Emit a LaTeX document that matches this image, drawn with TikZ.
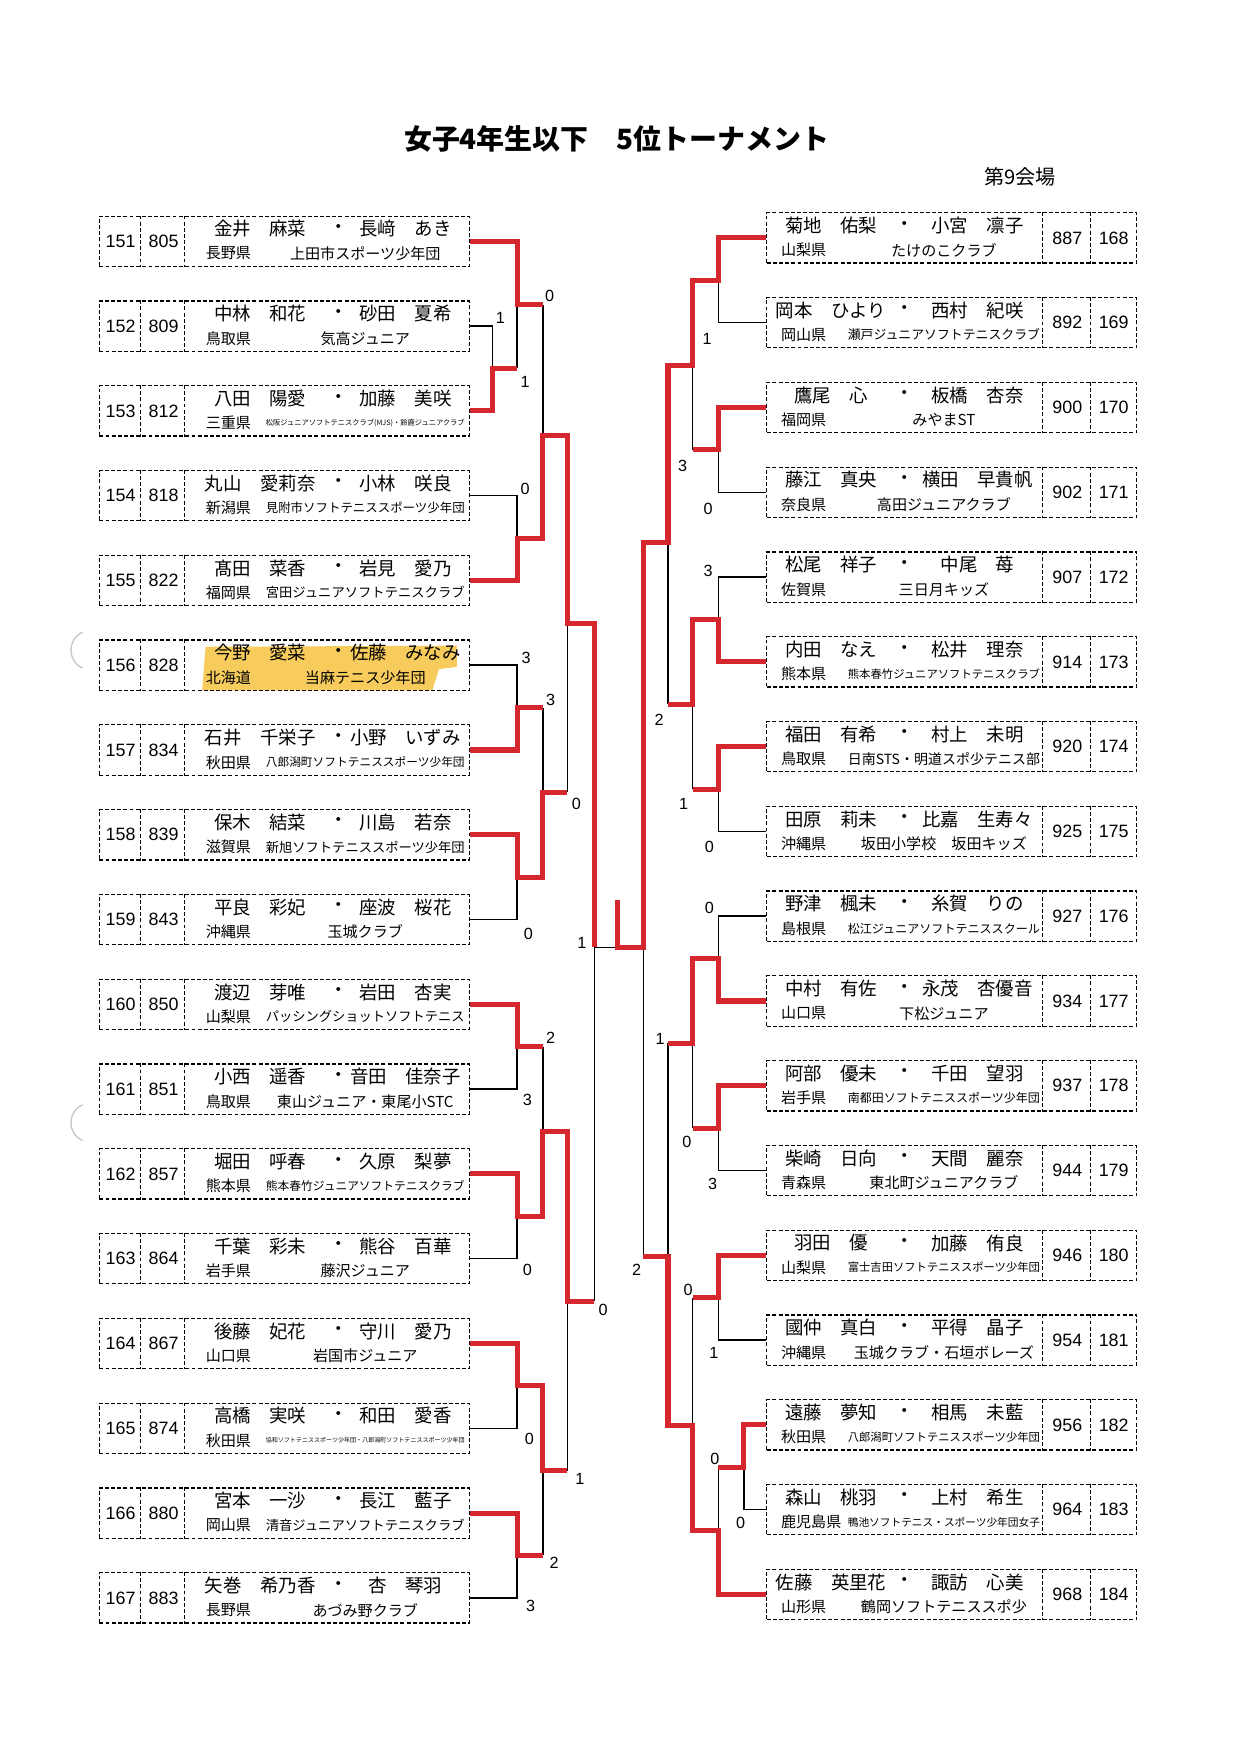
\documentclass[tikz,border=0pt]{standalone}
\usepackage{fontspec}
\usepackage{graphicx}
\setmainfont{Noto Sans CJK JP}
\newfontfamily\numfont{Liberation Sans}
\usetikzlibrary{calc}
\usetikzlibrary{positioning}

\definecolor{winred}{RGB}{214,38,46}
\definecolor{marker}{RGB}{248,204,92}

\newsavebox{\clubbox}
\newcommand{\fitclub}[2]{\sbox{\clubbox}{#2}\ifdim\wd\clubbox>#1\resizebox{#1}{!}{\usebox{\clubbox}}\else\usebox{\clubbox}\fi}

% seed, number, y, player 1, player 2, prefecture, club
\newcommand{\leftentry}[7]{%
  \node[entrybox] (e#1) at (254.5,#3) {};
  \draw[celldiv] ([xshift=37pt]e#1.north west) -- ([xshift=37pt]e#1.south west);
  \draw[celldiv] ([xshift=77pt]e#1.north west) -- ([xshift=77pt]e#1.south west);
  \node[seednum] (n#1) at (108,#3) {#1};
  \node[seednum] (k#1) at (146.5,#3) {#2};
  \node[player] (a#1) at (233,{#3-11}) {#4};
  \node[player] (d#1) at (303,{#3-11}) {・};
  \node[player] (b#1) at (363,{#3-11}) {#5};
  \node[club, anchor=west] (f#1) at (184,{#3+11}) {#6};
  \node[club] (c#1) at (327,{#3+11}) {\fitclub{178pt}{#7}};
}
\newcommand{\rightentry}[7]{%
  \node[entrybox] (e#1) at (852,#3) {};
  \draw[celldiv] ([xshift=247pt]e#1.north west) -- ([xshift=247pt]e#1.south west);
  \draw[celldiv] ([xshift=290pt]e#1.north west) -- ([xshift=290pt]e#1.south west);
  \node[seednum] (k#1) at (955.5,#3) {#2};
  \node[seednum] (n#1) at (997,#3) {#1};
  \node[player] (a#1) at (744,{#3-11}) {#4};
  \node[player] (d#1) at (810,{#3-11}) {・};
  \node[player] (b#1) at (875,{#3-11}) {#5};
  \node[club, anchor=west] (f#1) at (699,{#3+11}) {#6};
  \node[club] (c#1) at (845,{#3+11}) {\fitclub{172pt}{#7}};
}

\begin{document}
\begin{tikzpicture}[x=1pt,y=-1pt,
    entrybox/.style={draw, line width=1.1pt, dash pattern=on 3.5pt off 2pt, minimum width=331pt, minimum height=45pt, inner sep=0pt},
    celldiv/.style={line width=1.1pt, dash pattern=on 3.5pt off 2pt},
    seednum/.style={font=\numfont\fontsize{16}{16}\selectfont, inner sep=0pt},
    player/.style={font=\fontsize{16.5}{16.5}\selectfont, inner sep=0pt},
    club/.style={font=\fontsize{13.5}{13.5}\selectfont, inner sep=0pt},
    score/.style={font=\numfont\fontsize{14.5}{14.5}\selectfont, inner sep=0pt},
    win/.style={winred, line width=4.5pt},
    lose/.style={black, line width=1.3pt}]
  \useasboundingbox[fill=white] (0,0) rectangle (1110,1570.2);

  \node[font=\bfseries\fontsize{25}{25}\selectfont] (title) at (552,124) {女子4年生以下　5位トーナメント};
  \node[font=\fontsize{18}{18}\selectfont] (venue) at (913,158) {第9会場};

  % punch holes
  \draw[gray!45, line width=1.2pt] (74,566) .. controls (60,572) and (60,592) .. (74,598);
  \draw[gray!45, line width=1.2pt] (74,989) .. controls (60,995) and (60,1015) .. (74,1021);

  % marker on 156
  \fill[marker] (184,579) -- (409,578) -- (409,597) -- (393,599) -- (387,618) -- (181,618) -- cycle;

  \leftentry{151}{805}{216.0}{金井　麻菜}{長﨑　あき}{長野県}{上田市スポーツ少年団}
  \leftentry{152}{809}{291.9}{中林　和花}{砂田　夏希}{鳥取県}{気高ジュニア}
  \leftentry{153}{812}{367.8}{八田　陽愛}{加藤　美咲}{三重県}{松阪ジュニアソフトテニスクラブ(MJS)・鈴鹿ジュニアクラブ}
  \leftentry{154}{818}{443.7}{丸山　愛莉奈}{小林　咲良}{新潟県}{見附市ソフトテニススポーツ少年団}
  \leftentry{155}{822}{519.6}{髙田　菜香}{岩見　愛乃}{福岡県}{宮田ジュニアソフトテニスクラブ}
  \leftentry{156}{828}{595.5}{今野　愛菜}{佐藤　みなみ}{北海道}{当麻テニス少年団}
  \leftentry{157}{834}{671.4}{石井　千栄子}{小野　いずみ}{秋田県}{八郎潟町ソフトテニススポーツ少年団}
  \leftentry{158}{839}{747.3}{保木　結菜}{川島　若奈}{滋賀県}{新旭ソフトテニススポーツ少年団}
  \leftentry{159}{843}{823.2}{平良　彩妃}{座波　桜花}{沖縄県}{玉城クラブ}
  \leftentry{160}{850}{899.1}{渡辺　芽唯}{岩田　杏実}{山梨県}{パッシングショットソフトテニス}
  \leftentry{161}{851}{975.0}{小西　遥香}{音田　佳奈子}{鳥取県}{東山ジュニア・東尾小STC}
  \leftentry{162}{857}{1050.9}{堀田　呼春}{久原　梨夢}{熊本県}{熊本春竹ジュニアソフトテニスクラブ}
  \leftentry{163}{864}{1126.8}{千葉　彩未}{熊谷　百華}{岩手県}{藤沢ジュニア}
  \leftentry{164}{867}{1202.7}{後藤　妃花}{守川　愛乃}{山口県}{岩国市ジュニア}
  \leftentry{165}{874}{1278.6}{高橋　実咲}{和田　愛香}{秋田県}{協和ソフトテニススポーツ少年団・八郎潟町ソフトテニススポーツ少年団}
  \leftentry{166}{880}{1354.5}{宮本　一沙}{長江　藍子}{岡山県}{清音ジュニアソフトテニスクラブ}
  \leftentry{167}{883}{1430.4}{矢巻　希乃香}{杏　琴羽}{長野県}{あづみ野クラブ}

  \rightentry{168}{887}{213.0}{菊地　佑梨}{小宮　凛子}{山梨県}{たけのこクラブ}
  \rightentry{169}{892}{288.9}{岡本　ひより}{西村　紀咲}{岡山県}{瀬戸ジュニアソフトテニスクラブ}
  \rightentry{170}{900}{364.8}{鷹尾　心}{板橋　杏奈}{福岡県}{みやまST}
  \rightentry{171}{902}{440.7}{藤江　真央}{横田　早貴帆}{奈良県}{高田ジュニアクラブ}
  \rightentry{172}{907}{516.6}{松尾　祥子}{中尾　苺}{佐賀県}{三日月キッズ}
  \rightentry{173}{914}{592.5}{内田　なえ}{松井　理奈}{熊本県}{熊本春竹ジュニアソフトテニスクラブ}
  \rightentry{174}{920}{668.4}{福田　有希}{村上　未明}{鳥取県}{日南STS・明道スポ少テニス部}
  \rightentry{175}{925}{744.3}{田原　莉未}{比嘉　生寿々}{沖縄県}{坂田小学校　坂田キッズ}
  \rightentry{176}{927}{820.2}{野津　楓未}{糸賀　りの}{島根県}{松江ジュニアソフトテニススクール}
  \rightentry{177}{934}{896.1}{中村　有佐}{永茂　杏優音}{山口県}{下松ジュニア}
  \rightentry{178}{937}{972.0}{阿部　優未}{千田　望羽}{岩手県}{南都田ソフトテニススポーツ少年団}
  \rightentry{179}{944}{1047.9}{柴崎　日向}{天間　麗奈}{青森県}{東北町ジュニアクラブ}
  \rightentry{180}{946}{1123.8}{羽田　優}{加藤　侑良}{山梨県}{富士吉田ソフトテニススポーツ少年団}
  \rightentry{181}{954}{1199.7}{國仲　真白}{平得　晶子}{沖縄県}{玉城クラブ・石垣ボレーズ}
  \rightentry{182}{956}{1275.6}{遠藤　夢知}{相馬　未藍}{秋田県}{八郎潟町ソフトテニススポーツ少年団}
  \rightentry{183}{964}{1351.5}{森山　桃羽}{上村　希生}{鹿児島県}{鴨池ソフトテニス・スポーツ少年団女子}
  \rightentry{184}{968}{1427.4}{佐藤　英里花}{諏訪　心美}{山形県}{鶴岡ソフトテニススポ少}

  % match points
  \coordinate (m152) at (441,329.85);
  \coordinate (m151) at (463,272.9);
  \coordinate (m154) at (463,481.65);
  \coordinate (mL1) at (486,390);
  \coordinate (m156) at (463,633.45);
  \coordinate (m158) at (463,785.25);
  \coordinate (mL2) at (486,709.35);
  \coordinate (mL3) at (508,558);
  \coordinate (m160) at (463,937.05);
  \coordinate (m162) at (463,1088.85);
  \coordinate (mL4) at (486,1012.95);
  \coordinate (m164) at (463,1240.65);
  \coordinate (m166) at (463,1392.45);
  \coordinate (mL5) at (486,1316.55);
  \coordinate (mL6) at (508,1164.75);
  \coordinate (mL) at (532,848);
  \coordinate (mC) at (553,848);
  \coordinate (champ) at (553,806);
  \coordinate (mR) at (576,848);
  \coordinate (m168) at (643,250.95);
  \coordinate (m170) at (643,402.75);
  \coordinate (mR1) at (620,326.85);
  \coordinate (m172) at (643,554.55);
  \coordinate (m174) at (643,706.35);
  \coordinate (mR2) at (620,630.45);
  \coordinate (mR3) at (598,486);
  \coordinate (m176) at (643,858.15);
  \coordinate (m178) at (643,1009.95);
  \coordinate (mR4) at (620,934.05);
  \coordinate (m180) at (643,1161.75);
  \coordinate (m182) at (666,1313.55);
  \coordinate (m184) at (643,1370.5);
  \coordinate (mR5) at (620,1276);
  \coordinate (mR6) at (598,1125);

  % losing lines
  \draw[lose] (e152.east) -| (m152);
  \draw[lose] (m152 -| m151) -- (m151);
  \draw[lose] (m151 -| mL1) -- (mL1);
  \draw[lose] (e154.east) -| (m154);
  \draw[lose] (e156.east) -| (m156);
  \draw[lose] (m156 -| mL2) -- (mL2);
  \draw[lose] (e159.east) -| (m158);
  \draw[lose] (mL2 -| mL3) -- (mL3);
  \draw[lose] (e161.east) -| (m160);
  \draw[lose] (m160 -| mL4) -- (mL4);
  \draw[lose] (e163.east) -| (m162);
  \draw[lose] (e165.east) -| (m164);
  \draw[lose] (e167.east) -| (m166);
  \draw[lose] (m166 -| mL5) -- (mL5);
  \draw[lose] (mL5 -| mL6) -- (mL6);
  \draw[lose] (mL6 -| mL) -- (mL);
  \draw[lose] (mL) -- (mC);
  \draw[lose] (e169.west) -| (m168);
  \draw[lose] (e171.west) -| (m170);
  \draw[lose] (m170 -| mR1) -- (mR1);
  \draw[lose] (e172.west) -| (m172);
  \draw[lose] (mR2 -| mR3) -- (mR3);
  \draw[lose] (e175.west) -| (m174);
  \draw[lose] (m174 -| mR2) -- (mR2);
  \draw[lose] (e176.west) -| (m176);
  \draw[lose] (mR4 -| mR6) -- (mR6);
  \draw[lose] (e179.west) -| (m178);
  \draw[lose] (m178 -| mR4) -- (mR4);
  \draw[lose] (e181.west) -| (m180);
  \draw[lose] (m180 -| mR5) -- (mR5);
  \draw[lose] (e183.west) -| (m182);
  \draw[lose] (m182 -| m184) -- (m184);
  \draw[lose] (mR6 -| mR) -- (mR);

  % winning lines
  \draw[win] (e151.east) -| (m151) -- (m151 -| mL1);
  \draw[win] (e153.east) -| (m152) -- (m152 -| m151);
  \draw[win] (e155.east) -| (m154) -- (m154 -| mL1) -- (mL1) -- (mL1 -| mL3) -- (mL3) -- (mL3 -| mL) -- (mL);
  \draw[win] (e157.east) -| (m156) -- (m156 -| mL2);
  \draw[win] (e158.east) -| (m158) -- (m158 -| mL2) -- (mL2) -- (mL2 -| mL3);
  \draw[win] (e160.east) -| (m160) -- (m160 -| mL4);
  \draw[win] (e162.east) -| (m162) -- (m162 -| mL4) -- (mL4) -- (mL4 -| mL6) -- (mL6) -- (mL6 -| mL);
  \draw[win] (e164.east) -| (m164) -- (m164 -| mL5) -- (mL5) -- (mL5 -| mL6);
  \draw[win] (e166.east) -| (m166) -- (m166 -| mL5);
  \draw[win] (e168.west) -| (m168) -- (m168 -| mR1) -- (mR1) -- (mR1 -| mR3) -- (mR3) -- (mR3 -| mR) -- (mR) -- (mC) -- (champ);
  \draw[win] (e170.west) -| (m170) -- (m170 -| mR1);
  \draw[win] (e173.west) -| (m172) -- (m172 -| mR2) -- (mR2) -- (mR2 -| mR3);
  \draw[win] (e174.west) -| (m174) -- (m174 -| mR2);
  \draw[win] (e177.west) -| (m176) -- (m176 -| mR4) -- (mR4) -- (mR4 -| mR6);
  \draw[win] (e178.west) -| (m178) -- (m178 -| mR4);
  \draw[win] (e180.west) -| (m180) -- (m180 -| mR5);
  \draw[win] (e182.west) -| (m182) -- (m182 -| m184);
  \draw[win] (e184.west) -| (m184) -- (m184 -| mR5) -- (mR5) -- (mR5 -| mR6) -- (mR6) -- (mR6 -| mR);

  % scores
  \node[score] (sL1) at (492,265) {0};
  \node[score] (sL2) at (448,285) {1};
  \node[score] (sL3) at (470,342) {1};
  \node[score] (sL4) at (470,438) {0};
  \node[score] (sL5) at (471,589) {3};
  \node[score] (sL6) at (493,627) {3};
  \node[score] (sL7) at (516,720) {0};
  \node[score] (sL8) at (473,836) {0};
  \node[score] (sL9) at (521,844) {1};
  \node[score] (sL10) at (493,929) {2};
  \node[score] (sL11) at (472,985) {3};
  \node[score] (sL12) at (472,1137) {0};
  \node[score] (sL13) at (540,1173) {0};
  \node[score] (sL14) at (474,1288) {0};
  \node[score] (sL15) at (519,1324) {1};
  \node[score] (sL16) at (496,1399) {2};
  \node[score] (sL17) at (475,1438) {3};
  \node[score] (sR1) at (633,303) {1};
  \node[score] (sR2) at (611,417) {3};
  \node[score] (sR3) at (634,456) {0};
  \node[score] (sR4) at (634,511) {3};
  \node[score] (sR5) at (590,644) {2};
  \node[score] (sR6) at (612,720) {1};
  \node[score] (sR7) at (635,758) {0};
  \node[score] (sR8) at (635,813) {0};
  \node[score] (sR9) at (591,930) {1};
  \node[score] (sR10) at (615,1022) {0};
  \node[score] (sR11) at (638,1060) {3};
  \node[score] (sR12) at (570,1137) {2};
  \node[score] (sR13) at (616,1155) {0};
  \node[score] (sR14) at (639,1211) {1};
  \node[score] (sR15) at (640,1306) {0};
  \node[score] (sR16) at (663,1363) {0};
\end{tikzpicture}
\end{document}
